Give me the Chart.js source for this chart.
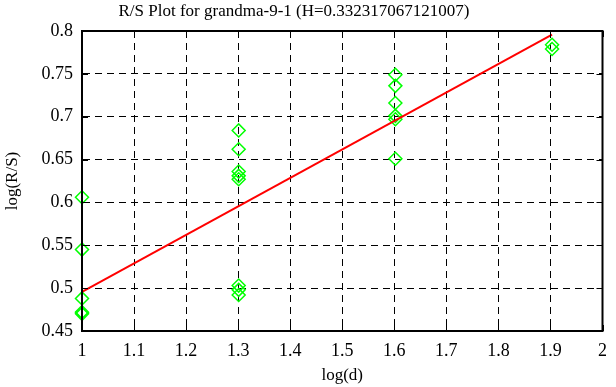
<!DOCTYPE html>
<html>
<head>
<meta charset="utf-8">
<script src="https://cdn.jsdelivr.net/npm/chart.js@4"></script>
<style>
  html, body { margin: 0; padding: 0; background: #fff; }
  #wrap { width: 616px; height: 387px; }
</style>
</head>
<body>
<div id="wrap"><canvas id="rsPlot" width="616" height="387"></canvas></div>
<script>
// R/S plot data
const logD = [1, 1, 1, 1, 1,
              1.30103, 1.30103, 1.30103, 1.30103, 1.30103, 1.30103, 1.30103, 1.30103,
              1.60206, 1.60206, 1.60206, 1.60206, 1.60206, 1.60206,
              1.90309, 1.90309];
const logRS = [0.606, 0.545, 0.488, 0.472, 0.470,
               0.684, 0.662, 0.636, 0.631, 0.627, 0.503, 0.498, 0.492,
               0.749, 0.736, 0.716, 0.701, 0.697, 0.651,
               0.784, 0.779];

// fitted line ends
const fitX = [1, 1.90309];
const fitY = [0.4957, 0.7957];

const xTickValues = [1, 1.1, 1.2, 1.3, 1.4, 1.5, 1.6, 1.7, 1.8, 1.9, 2];
const yTickValues = [0.45, 0.5, 0.55, 0.6, 0.65, 0.7, 0.75, 0.8];

const titleText = 'R/S Plot for grandma-9-1 (H=0.332317067121007)';
const serif = "'Liberation Serif', 'DejaVu Serif', serif";

// frame + inward tick marks like gnuplot, and the title text
const frameTicks = {
    id: 'frameTicks',
    afterDatasetsDraw(chart) {
        const ctx = chart.ctx;
        const a = chart.chartArea;
        const xs = chart.scales.x, ys = chart.scales.y;
        ctx.save();
        ctx.strokeStyle = '#000';
        ctx.setLineDash([]);
        ctx.lineWidth = 1;
        ctx.beginPath();
        xTickValues.forEach(function(v){
            const px = Math.round(xs.getPixelForValue(v)) + 0.5;
            ctx.moveTo(px, a.bottom); ctx.lineTo(px, a.bottom - 6);
            ctx.moveTo(px, a.top); ctx.lineTo(px, a.top + 6);
        });
        yTickValues.forEach(function(v){
            const py = Math.round(ys.getPixelForValue(v)) + 0.5;
            ctx.moveTo(a.left, py); ctx.lineTo(a.left + 6, py);
            ctx.moveTo(a.right, py); ctx.lineTo(a.right - 6, py);
        });
        ctx.stroke();
        ctx.lineWidth = 2;
        ctx.strokeRect(a.left, a.top, a.right - a.left, a.bottom - a.top);

        // title
        ctx.fillStyle = '#000';
        ctx.font = '17px ' + serif;
        ctx.textAlign = 'center';
        ctx.textBaseline = 'middle';
        ctx.fillText(titleText, 294, 12);
        ctx.restore();
    }
};

const ctx = document.getElementById('rsPlot').getContext('2d');
const rsChart = new Chart(ctx, {
    type: 'scatter',
    data: {
        datasets: [
            {
                label: 'R/S',
                data: logD.map(function(x, i){ return {x: x, y: logRS[i]}; }),
                pointStyle: 'rectRot',
                pointRadius: 6.5,
                pointBorderWidth: 1.5,
                borderColor: '#00ff00',
                backgroundColor: 'rgba(0,0,0,0)',
                showLine: false,
                clip: false,
                order: 2
            },
            {
                label: 'fit',
                data: fitX.map(function(x, i){ return {x: x, y: fitY[i]}; }),
                showLine: true,
                borderColor: '#ff0000',
                borderWidth: 2,
                pointRadius: 0,
                clip: false,
                order: 1
            }
        ]
    },
    options: {
        responsive: false,
        animation: false,
        layout: { padding: { left: 0, right: 6, top: 31, bottom: 0 } },
        plugins: {
            legend: { display: false },
            tooltip: { enabled: false },
            title: { display: false }
        },
        scales: {
            x: {
                type: 'linear',
                min: 1, max: 2,
                afterBuildTicks: function(s){ s.ticks = xTickValues.map(function(v){ return {value: v}; }); },
                afterFit: function(s){ s.height = 56; },
                ticks: {
                    color: '#000',
                    padding: 9,
                    maxRotation: 0,
                    font: { family: serif, size: 18 },
                    callback: function(v){ return String(v); }
                },
                grid: { color: '#000', lineWidth: 1, drawTicks: false },
                border: { display: true, color: '#000', width: 2, dash: [7, 5] },
                title: {
                    display: true, text: 'log(d)', color: '#000',
                    font: { family: serif, size: 17 },
                    padding: { top: 0, bottom: 1 }
                }
            },
            y: {
                type: 'linear',
                min: 0.45, max: 0.8,
                afterBuildTicks: function(s){ s.ticks = yTickValues.map(function(v){ return {value: v}; }); },
                afterFit: function(s){ s.width = 82; },
                ticks: {
                    color: '#000',
                    padding: 9,
                    font: { family: serif, size: 18 },
                    callback: function(v){ return String(v); }
                },
                grid: { color: '#000', lineWidth: 1, drawTicks: false },
                border: { display: true, color: '#000', width: 2, dash: [7, 5] },
                title: {
                    display: true, text: 'log(R/S)', color: '#000',
                    font: { family: serif, size: 17 },
                    padding: { top: 2, bottom: 0 }
                }
            }
        }
    },
    plugins: [frameTicks]
});
</script>
</body>
</html>
